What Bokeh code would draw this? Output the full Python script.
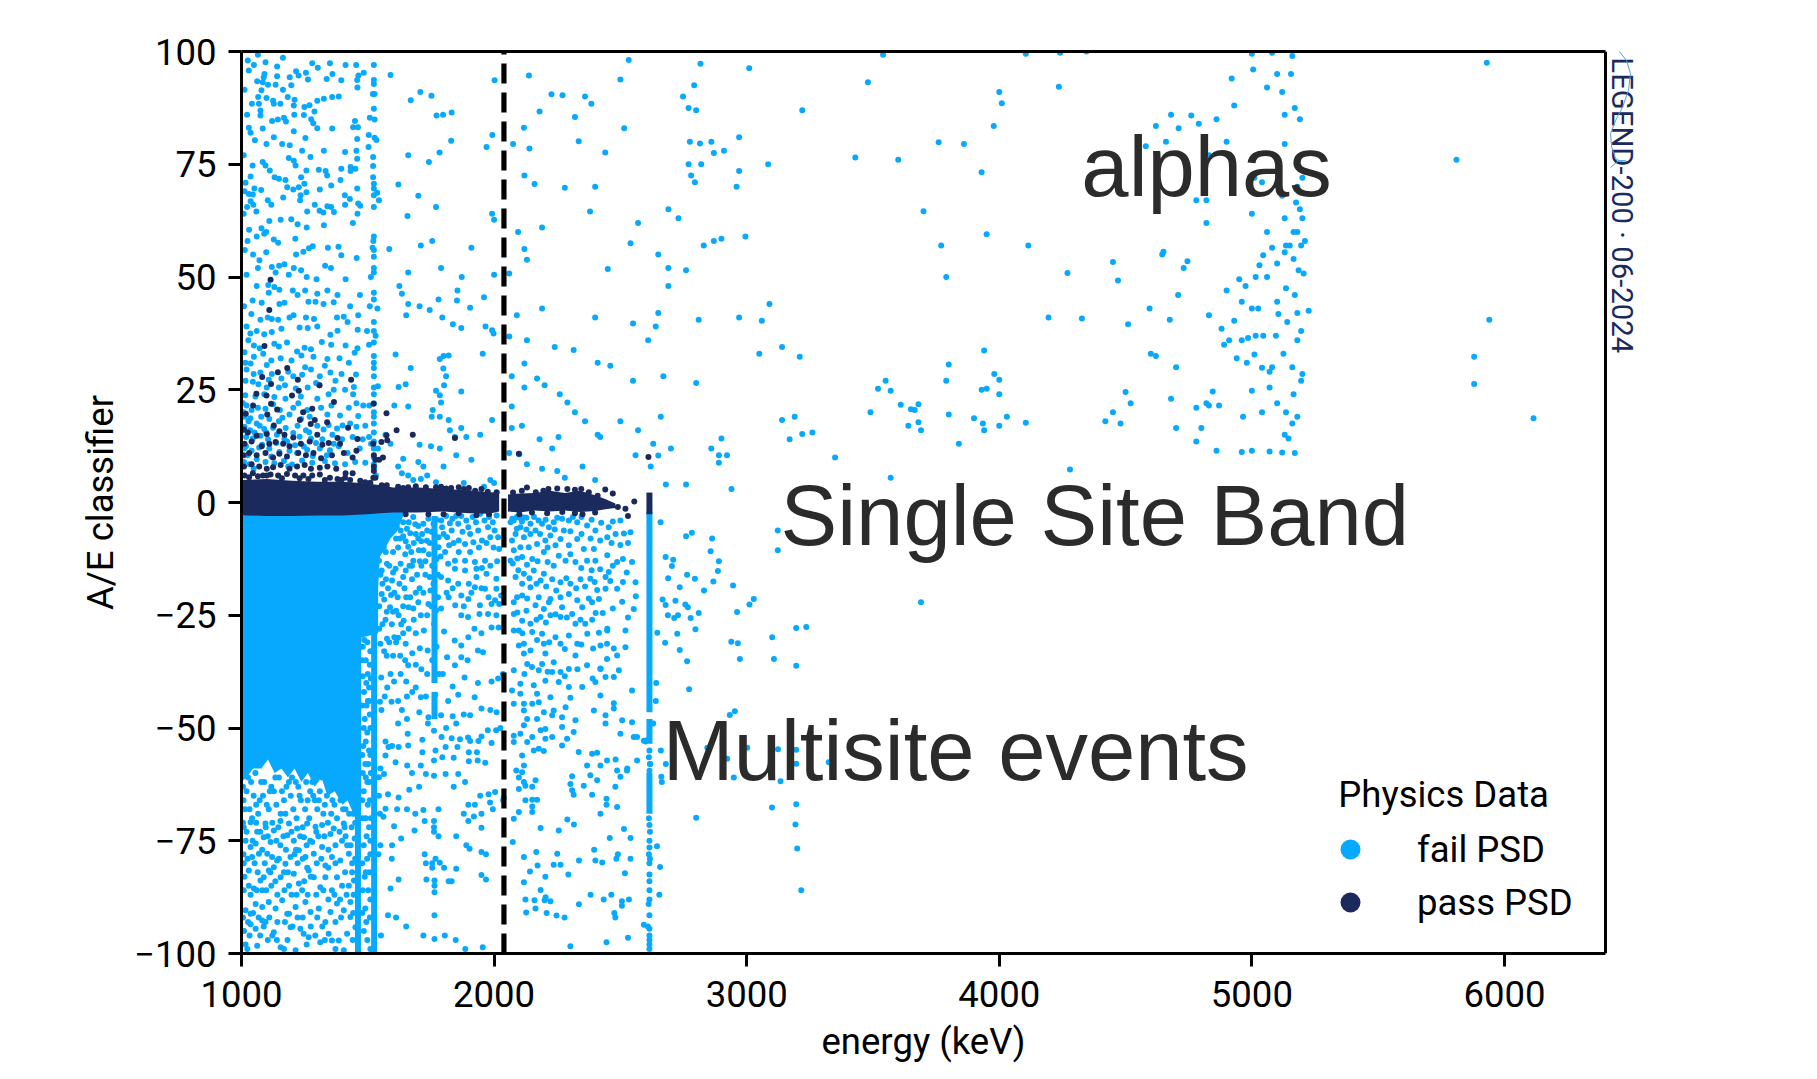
import math
from bokeh.plotting import figure
from bokeh.models import ColumnDataSource, FixedTicker, Label, Legend, LegendItem, LinearAxis, Title
from bokeh.embed import file_html
from bokeh.resources import INLINE

BLUE = "#07a9ff"
NAVY = "#1a2a5c"
X_TICKS = [1000, 2000, 3000, 4000, 5000, 6000]
Y_TICKS = [-100, -75, -50, -25, 0, 25, 50, 75, 100]
QBB = 2039

# --- densely filled areas, read as envelopes
band1_e = [1000, 1100, 1200, 1300, 1400, 1500, 1550, 1600, 1700, 1800, 1900, 1980, 2020]
band1_up = [5.0, 5.2, 4.8, 4.6, 4.6, 4.2, 3.8, 3.3, 3.3, 3.0, 2.7, 2.3, 2.2]
band1_lo = [-2.8, -3.0, -3.0, -2.9, -2.9, -2.6, -2.4, -2.2, -2.2, -2.0, -2.4, -2.5, -2.0]
band2_e = [2055, 2100, 2160, 2220, 2280, 2340, 2400, 2440, 2480]
band2_up = [1.8, 2.0, 2.1, 2.6, 2.1, 2.6, 1.6, 0.8, -0.2]
band2_lo = [-2.0, -2.2, -1.8, -2.0, -1.8, -2.1, -1.9, -1.5, -1.2]
solid_e = [1000, 1640, 1640, 1615, 1590, 1570, 1548, 1541, 1541, 1474, 1474, 1451, 1420, 1400, 1369, 1340, 1317, 1290, 1263, 1237, 1210, 1184, 1158, 1131, 1105, 1078, 1046, 1020, 1000]
solid_y = [-1.5, -1.5, -3, -6.5, -8, -10, -12, -19, -29, -30, -68, -70, -66, -67, -64, -65, -61, -63, -60, -62, -59, -61, -59, -60, -57, -59, -59, -61, -62]
heavy_e = [1461, 1525, 2615, 2615, 2615, 1764, 1764]
heavy_top = [-25, -25, -2, -48, -60, -3, -42]
heavy_bottom = [-100, -100, -46.5, -53.5, -69, -40, -48]
pass_line_e = [2615]
pass_line_top = [2.2]
pass_line_bottom = [-2.6]

# --- individual events: (energy, A/E)
fail_upper_left = [(1025,98),(1065,99.3),(1164,98.6),(1049,97),(1095,97.6),(1141,96.7),(1280,97.4),(1350,97.4),(1302,96.4),(1412,97),(1454,97),(1029,95.8),(1091,95),(1088,94.3),(1141,94.5),(1191,94.3),(1216,95.6),(1226,94.7),(1255,95.3),(1263,93.8),(1360,95),(1337,93.9),(1395,93.6),(1484,95.3),(1463,94.7),(1458,93.7),(1459,92),(1012,91.5),(1062,93.4),(1084,93.2),(1105,92.6),(1135,92.6),(1197,92.5),(1164,91.5),(1079,91.4),(1066,89.9),(1099,89.7),(1125,89.1),(1183,89.9),(1210,89.3),(1300,89.1),(1326,89.5),(1359,89.9),(1385,90),(1041,88.4),(1069,88.4),(1128,88.4),(1154,88.4),(1207,88),(1269,88.1),(1249,87.7),(1022,86),(1075,86.9),(1075,85.8),(1209,86),(1247,85.9),(1289,86.7),(1276,85),(1121,84.6),(1144,84.9),(1168,85.3),(1176,84.5),(1449,84.6),(1442,83.2),(1461,83.2),(1284,84.1),(1300,83),(1359,82.9),(1029,83.1),(1084,82.9),(1207,82.3),(1036,82),(1053,80.3),(1099,79.5),(1128,81),(1161,79.5),(1191,79.2),(1253,80.8),(1458,80.6),(1009,77),(1240,78),(1326,78),(1410,77.7),(1455,78),(1273,76.6),(1458,76.2),(1187,76.4),(1084,75.5),(1044,74.7),(1095,74.7),(1207,75.8),(1214,74.7),(1112,73.6),(1306,73.8),(1395,74),(1432,74.4),(1451,74),(1257,73.6),(1333,73.5),(1339,72.5),(1036,72.3),(1131,72.1),(1148,71.8),(1174,71.5),(1236,72.1),(1392,71.5),(1432,73.5),(1016,70.9),(1249,70.7),(1355,70.3),(1051,69.6),(1078,69.3),(1181,69.9),(1205,69.4),(1227,69.9),(1310,69.4),(1458,69.6),(1257,68.8),(1012,69),(1029,68.4),(1045,68.3),(1234,68.1),(1409,68.1),(1165,67.6),(1429,67.3),(1104,67),(1036,66.8),(1047,66),(1118,66),(1232,67),(1022,65.5),(1290,66),(1340,65.7),(1355,65.5),(1410,66),(1462,66.3),(1470,65.8),(1059,64.5),(1009,64),(1260,64.5),(1309,64.7),(1324,64.3),(1366,64.4),(1459,64),(1110,62.4),(1155,62.7),(1197,62.8),(1222,61.7),(1258,61),(1326,61.5),(1441,62),(1030,60.5),(1079,60.8),(1098,60),(1090,59.6),(1060,59),(1024,58),(1128,58.3),(1145,57.6),(1213,58.5),(1267,56.4),(1282,56.8),(1342,56.5),(1384,56.7),(1013,56),(1046,55),(1098,55.5),(1216,55),(1245,55.6),(1395,54.8),(1456,54.2),(1071,53.7),(1065,52),(1120,52.2),(1149,52.5),(1170,52.8),(1207,52),(1236,51.5),(1331,52.5),(1354,52),(1020,50.5),(1135,51),(1187,50.5),(1258,50),(1297,49.5),(1412,49.5),(1060,48),(1106,48.2),(1108,46.5),(1130,47.8),(1150,47.2),(1203,47),(1222,46),(1252,47),(1300,46.3),(1340,47),(1380,46),(1469,46),(1044,44.8),(1080,44.3),(1150,44),(1170,44.3),(1265,44.5),(1293,44.5),(1325,44),(1365,44.4),(1430,43.5),(1010,43.5),(1039,41.8),(1075,40.5),(1104,41),(1120,40.7),(1145,40.5),(1190,41),(1206,41.5),(1255,41),(1287,40.7),(1378,41),(1405,41.2),(1420,40),(1462,41.5),(1020,39),(1035,37.5),(1060,38),(1090,37.3),(1120,37.8),(1158,38.5),(1230,38.8),(1262,38.7),(1300,39),(1352,37.2),(1380,38.1),(1460,38.3),(1497,38),(1027,36),(1049,34.8),(1072,34.2),(1130,35.2),(1148,34.6),(1180,35.5),(1220,33.5),(1250,34.3),(1275,34),(1318,35.6),(1355,35),(1412,34.8),(1459,34.2),(1012,33.3),(1049,32.3),(1100,30.5),(1118,31.5),(1155,32),(1198,31.5),(1237,32.6),(1285,32.3),(1340,31.8),(1388,32),(1448,33.2),(1020,29.5),(1048,28.5),(1075,28.8),(1120,28.5),(1158,27.5),(1185,29),(1240,28.3),(1275,29.5),(1310,28),(1352,28.8),(1396,28.5),(1453,28.4),(1016,27),(1045,26.8),(1067,26.2),(1100,25.5),(1148,25.5),(1215,25.3),(1262,25.5),(1308,26),(1365,25),(1410,25),(1445,25.6),(1015,23.8),(1055,23.5),(1090,24),(1130,23.4),(1174,23),(1235,23.5),(1300,23),(1345,24),(1442,24),(1020,21.5),(1040,20.5),(1065,21),(1095,20.8),(1125,21.8),(1152,20.5),(1205,21),(1225,22),(1260,20.5),(1315,21),(1356,21.5),(1425,21),(1455,22),(1482,21.5),(1012,19),(1035,18.7),(1078,19),(1110,18.5),(1162,18.8),(1190,19.5),(1236,18.5),(1270,19),(1340,19.5),(1390,19.3),(1462,19.2),(1012,16.8),(1034,16),(1060,17.5),(1090,16.3),(1125,16.6),(1175,16.5),(1222,17),(1255,16),(1300,17),(1345,17.2),(1400,17.1),(1455,16.8),(1490,17),(1018,14.5),(1045,14.2),(1075,14.8),(1105,14),(1140,15),(1180,13.5),(1230,14.6),(1275,14.2),(1320,14),(1360,15),(1440,14.5),(1505,14.5),(1010,12),(1040,11.5),(1070,12.2),(1110,12),(1150,11.2),(1190,11.5),(1220,11),(1260,11.7),(1310,12),(1350,11.6),(1385,12.5),(1420,11),(1010,9),(1032,8.5),(1060,9.6),(1095,9),(1130,8.7),(1168,9.2),(1200,8.4),(1240,9.3),(1280,8.8),(1330,9.2),(1370,8.7),(1410,8.5),(1450,9),(1490,8.8),(1006,22),(1008,20),(1028,18),(1052,15.5),(1018,12.5),(1006,16),(1024,10.5),(1048,7.5),(1072,17),(1082,12.8),(1098,15.5),(1118,10.2),(1138,13.2),(1148,18),(1170,14),(1185,8),(1205,15.4),(1212,12.7),(1247,12.4),(1268,15.6),(1282,10.3),(1295,13.2),(1325,16.2),(1338,10.5),(1365,13),(1378,16.4),(1398,14),(1430,17.5),(1468,12),(1480,14),(1015,31),(1036,30.8),(1086,33),(1108,27.2),(1172,26),(1205,28),(1252,30),(1295,26.5),(1330,30.3),(1372,27),(1425,31)]
fail_1525_column = [(1524,97),(1524,93.7),(1524,92.8),(1520,90.6),(1527,90.6),(1524,87.3),(1508,85.3),(1527,84.9),(1504,81.5),(1527,80.9),(1534,80.4),(1503,78.8),(1521,76.6),(1521,74.6),(1521,72.1),(1524,70.7),(1524,69.6),(1537,68.7),(1524,68.1),(1544,67),(1524,65.5),(1524,59),(1522,58),(1519,56.5),(1524,56),(1524,54.5),(1524,52),(1524,51),(1512,50),(1524,46.5),(1524,45),(1508,43.5),(1538,43),(1524,40),(1524,38),(1531,37),(1524,35.5),(1505,35),(1524,32.5),(1524,31),(1524,29.8),(1524,28),(1524,25.5),(1524,24),(1524,22),(1506,21.5),(1524,20),(1524,19),(1524,17.5),(1524,15.5),(1524,13.5),(1524,12),(1513,13),(1540,12),(1524,10),(1524,8.5),(1524,7.5),(1532,6)]
fail_upper_mid = [(1590,94.8),(1708,91),(1670,89.2),(1752,90.2),(1832,86.5),(1798,86),(1772,85.8),(2002,93.6),(1660,77),(1784,77.6),(1742,75.5),(1830,80.2),(1970,78.8),(1993,81.5),(1621,70.5),(1700,68),(1770,65.5),(1992,64),(2000,62.7),(1657,63.5),(1585,56.2),(1710,57),(1755,58),(1910,56.5),(1790,52),(1660,51),(1872,50),(2000,50.5),(1625,48),(1635,46.3),(1855,47),(1780,45),(1853,44.8),(1660,44),(1705,43.5),(1745,42.7),(1795,41),(1905,43.2),(1960,45.5),(1652,41.5),(1870,38.7),(1837,39.5),(1966,39),(1992,38.2),(1998,37.5),(1955,33),(1800,32.5),(1820,32.6),(1610,32.8),(1785,31.8),(1799,29.7),(1810,28),(1670,29.8),(1650,26.2),(1622,25.6),(1802,26),(1770,24.8),(1785,23.8),(1790,22.2),(1870,24.6),(1540,25.8),(1605,21.5),(1660,21.3),(1757,20.5),(1753,19),(1785,19),(1820,18.3),(1992,18.3),(1825,16),(1845,14.5),(1890,14.5),(1870,16.5),(1945,15),(1570,15),(1590,13),(1640,9.7),(1705,12.8),(1750,12.5),(1785,12),(1700,9),(1720,8),(1635,6.5),(1660,6),(1680,5),(1710,5.2),(1800,8),(1850,10.5),(1910,9.5),(1985,5),(2000,4.3),(1620,8),(1735,6),(1770,4.5),(1880,4.3),(1960,3.5)]
fail_upper_right = [(2227,90.5),(2271,90.3),(2360,90),(2385,88.4),(2138,94.7),(2533,98.1),(2817,97.3),(2500,93.8),(2792,92.5),(2748,90),(2180,86.7),(2320,85.5),(2118,83.1),(2515,83),(2770,87.5),(2800,87),(2075,79.5),(2140,78.5),(2335,80.1),(2440,77.6),(2775,80),(2815,79.6),(2770,75),(2820,75),(2780,72.5),(2870,77.5),(2120,72.5),(2160,70.6),(2280,69.8),(2400,70),(2690,65),(2730,63),(2795,71),(2380,64.5),(2570,62),(2095,60),(2190,61),(2120,56.2),(2130,53.8),(2540,57.5),(2650,55),(2830,57),(2870,58),(2060,50.8),(2450,51.8),(2690,52),(2760,51.5),(2690,48),(2090,41.5),(2190,43),(2400,41),(2550,39.7),(2640,39),(2650,42),(2810,40.5),(2060,36.8),(2130,36),(2240,34.5),(2315,33.8),(2410,31),(2460,30.3),(2610,36),(2550,27),(2670,28),(2800,26.5),(2070,28),(2120,30.8),(2170,27.5),(2200,26),(2070,21.3),(2120,25.5),(2260,24),(2290,22.2),(2320,20),(2360,18),(2410,15),(2420,14.5),(2500,18),(2570,16),(2630,13),(2660,19),(2700,12),(2110,17),(2180,14),(2230,12),(2255,14.5),(2070,16.5),(2100,10.7),(2130,8.5),(2060,11),(2190,7.5),(2250,7),(2280,5.5),(2350,8),(2400,5),(2560,10.5),(2620,8),(2650,10.4),(2680,4),(2890,8.8),(2890,10.5),(2760,4),(2940,3),(3010,96.3),(3085,75),(3220,87),(3430,76.5),(3480,93.2),(3210,32.3),(3060,40.3),(3050,33),(3140,34.5),(3140,18.3),(3190,19),(3220,15.2),(2970,41),(2860,12),(2900,14.2),(2922,10.5),(2900,58.5),(2995,59),(2860,80),(2910,78),(2970,81),(2960,70),(2970,73.5),(3090,44)]
fail_alpha = [(3540,99.3),(3760,79.9),(3860,79.5),(3930,73.2),(3600,76),(3950,59.5),(3770,57),(3700,64.6),(3790,50),(4105,99.5),(4241,99.7),(4345,100),(4236,92.2),(4000,91),(4010,88.5),(3978,83.5),(4115,57),(4270,50.9),(4450,53.3),(4470,49.2),(4195,41),(4327,40.8),(4510,39.5),(4600,33),(4620,32.5),(4650,55.6),(4645,55),(4730,52),(4708,46),(4830,41.5),(4745,53.5),(4595,43),(4675,40.5),(4900,47),(4950,49.5),(4960,44.5),(4975,48),(4930,40.3),(5000,43),(4985,36.5),(5015,37),(5045,37),(5025,43),(5060,50),(5100,44.5),(5135,47.5),(5170,46),(5185,51.5),(5205,50.8),(5135,57),(5180,60),(5190,65),(5175,66.5),(5200,63),(5180,70),(5200,72),(5040,71),(5010,72),(5130,79.5),(5130,86),(5060,92),(5120,91),(5190,85),(5170,87.5),(5100,95),(5155,95),(5005,96),(5160,99),(5080,99.7),(5000,99.5),(4920,94),(4930,88),(4860,85),(4900,80),(4830,77),(4790,84),(4760,85.8),(4710,83),(4680,86),(4660,80),(4620,83.5),(4580,79),(4820,67),(5000,64),(5120,68),(4780,67),(4820,62),(5060,60),(5130,63),(5150,57),(5165,60),(5165,54),(5195,57),(5210,58),(5130,55.5),(5100,53),(5080,56.5),(5045,54.8),(5030,52.6),(5015,50),(4910,36),(4960,36),(5010,32.8),(5040,29.9),(5080,30),(5125,33),(5180,36),(5195,38),(5180,42),(5225,42.5),(5140,40),(5105,41.8),(5095,37),(5160,30),(5200,28.5),(4880,38.5),(4890,35),(4940,32),(4980,31),(5070,29),(5070,25.5),(5000,24.8),(4845,24.6),(4820,22),(4830,21.5),(4870,21.5),(4965,19),(5040,20),(5100,22),(5135,20),(5165,24),(5180,19),(5195,27),(5160,17.5),(5130,15),(5145,14.2),(4800,16.5),(4780,21),(4780,13.5),(4700,16.5),(4860,11.5),(4960,11.2),(5000,11.5),(5070,11.3),(5120,11.1),(5170,11),(3520,25.2),(3550,27),(3570,24.8),(3490,20),(3610,21.7),(3650,20.7),(3680,21.8),(3665,20.5),(3640,17),(3680,17.8),(3690,16),(3790,27),(3800,30.6),(3800,19.5),(3940,33.7),(3980,28.5),(4000,27.2),(3930,25),(3950,25.2),(4000,24),(3900,18.7),(3935,17.5),(3940,16),(4000,17),(4030,19),(4105,17.7),(3840,13),(4280,7.3),(3570,5.5),(4450,20),(4420,18),(4500,24.5),(4520,22),(4480,17.5),(4700,30),(4680,23),(5880,32.3),(5880,26.3),(5940,40.5),(5810,76),(5930,97.5),(6115,18.7),(3260,15.5),(3170,14),(3350,10),(3690,-22.1)]
fail_low_left = [(1010,-95),(1016,-98),(1023,-99),(1036,-93.5),(1056,-94.5),(1062,-98.3),(1082,-92.7),(1095,-93),(1122,-96),(1128,-95.3),(1155,-98.6),(1168,-99),(1181,-91.2),(1194,-94.2),(1214,-99.3),(1233,-94.5),(1246,-95.6),(1266,-96.4),(1312,-97.5),(1345,-95.6),(1358,-97.1),(1385,-97.1),(1405,-99.3),(1418,-95.6),(1431,-91.9),(1451,-94.2),(1009,-86),(1029,-85),(1049,-85.6),(1075,-83.8),(1088,-83.1),(1108,-81.6),(1128,-80.9),(1155,-83.1),(1174,-80.1),(1188,-85),(1207,-82.3),(1227,-84.5),(1240,-86),(1266,-81.6),(1286,-83.1),(1312,-85.3),(1332,-83.1),(1358,-86),(1378,-83.1),(1398,-85),(1425,-85),(1445,-83.8),(1016,-90.4),(1036,-91.2),(1056,-89),(1082,-89.7),(1108,-88.6),(1135,-90),(1161,-88.2),(1188,-91.2),(1214,-89.7),(1253,-88.6),(1273,-90.8),(1306,-90),(1332,-93),(1352,-90.8),(1378,-88.9),(1405,-90.4),(1431,-88.6),(1009,-80),(1029,-81.6),(1042,-78.6),(1069,-77.9),(1102,-77.9),(1121,-78.6),(1141,-79.4),(1194,-78.6),(1227,-77.1),(1253,-78.6),(1286,-77.9),(1332,-80.5),(1358,-78.6),(1391,-79.4),(1425,-77.9),(1438,-80),(1016,-75),(1036,-76.4),(1056,-75.6),(1088,-74.2),(1115,-75.3),(1154,-76),(1181,-73.8),(1207,-75),(1247,-74.2),(1280,-75.3),(1319,-76.4),(1352,-73.5),(1398,-75),(1418,-76),(1448,-74.5),(1009,-72),(1036,-70.9),(1062,-73),(1095,-71.2),(1128,-72.7),(1154,-70.6),(1188,-71.2),(1220,-72.3),(1260,-71.2),(1293,-71.9),(1319,-71.5),(1365,-72.3),(1405,-71.2),(1020,-64),(1038,-62),(1055,-60),(1072,-66),(1090,-62),(1108,-68),(1128,-64),(1148,-61),(1168,-66),(1188,-62),(1205,-68),(1225,-63),(1245,-60),(1262,-66),(1280,-62),(1300,-68),(1320,-61),(1338,-65),(1355,-69),(1372,-62),(1392,-66),(1412,-68),(1430,-64),(1008,-66),(1032,-68),(1048,-65),(1066,-69),(1085,-65),(1100,-67),(1118,-63),(1138,-67),(1155,-69),(1178,-63),(1195,-65),(1215,-62),(1235,-66),(1252,-68),(1272,-64),(1290,-66),(1310,-64),(1330,-67),(1348,-62),(1368,-67),(1385,-63),(1402,-68),(1420,-65),(1442,-69),(1480,-32),(1492,-35),(1510,-33),(1500,-38),(1485,-42),(1505,-41),(1495,-45),(1488,-48),(1508,-47),(1498,-51),(1482,-54),(1505,-55),(1490,-58),(1512,-60),(1498,-62),(1484,-64),(1508,-66),(1492,-70),(1505,-72),(1484,-76),(1497,-79),(1510,-78),(1488,-83),(1502,-86),(1490,-90),(1508,-92),(1484,-95),(1498,-97),(1510,-99)]
fail_low_dense = [(1006,-63),(1014,-68),(1026,-61),(1042,-70),(1058,-67),(1078,-62),(1096,-72),(1112,-64),(1134,-61),(1146,-72),(1160,-64),(1174,-69),(1200,-61),(1218,-70),(1230,-65),(1242,-72),(1256,-62),(1268,-70),(1284,-65),(1296,-73),(1306,-66),(1324,-69),(1342,-71),(1360,-66),(1378,-70),(1396,-64),(1408,-72),(1426,-69),(1436,-72),(1450,-71),(1006,-71),(1020,-73),(1044,-75),(1058,-71),(1074,-73),(1082,-77),(1104,-74),(1122,-71),(1138,-75),(1166,-74),(1176,-77),(1198,-73),(1216,-77),(1232,-74),(1258,-76),(1272,-75),(1304,-74),(1328,-74),(1344,-77),(1372,-76),(1388,-73),(1412,-74),(1432,-76),(1008,-78),(1024,-79),(1052,-80),(1064,-82),(1092,-80),(1114,-82),(1134,-84),(1148,-79),(1168,-82),(1184,-82),(1210,-78),(1222,-80),(1242,-79),(1260,-81),(1274,-83),(1298,-80),(1316,-79),(1344,-81),(1372,-80),(1410,-82),(1438,-82),(1450,-79),(1012,-83),(1036,-87),(1060,-86),(1082,-86),(1098,-86),(1118,-85),(1142,-87),(1170,-86),(1198,-87),(1218,-87),(1248,-84),(1262,-87),(1296,-87),(1324,-86),(1344,-88),(1368,-87),(1390,-88),(1416,-87),(1444,-87),(1006,-92),(1026,-93),(1046,-91),(1068,-92),(1088,-94),(1110,-92),(1142,-93),(1172,-93),(1202,-94),(1222,-92),(1242,-92),(1274,-94),(1300,-92),(1320,-94),(1372,-93),(1394,-92),(1442,-91),(1032,-96),(1074,-96),(1104,-97),(1140,-97),(1182,-97),(1258,-98),(1292,-96),(1330,-97),(1372,-99),(1440,-97)]
fail_gap = [(1478,-35),(1486,-30.5),(1498,-31),(1508,-36),(1480,-38.5),(1494,-40),(1506,-44),(1512,-39),(1478,-45),(1500,-44),(1484,-50),(1510,-50),(1478,-56),(1492,-53),(1510,-56),(1480,-60),(1502,-58),(1506,-62),(1478,-66),(1492,-61),(1500,-67),(1512,-70),(1480,-70),(1495,-74),(1510,-75),(1478,-80),(1492,-82),(1508,-82),(1480,-86),(1510,-88),(1494,-93),(1478,-91)]
fail_mid = [(1550,-10.6),(1563,-9.9),(1544,-12.9),(1571,-11),(1550,-16),(1576,-13.6),(1555,-15.1),(1596,-17.3),(1610,-14.7),(1630,-13.6),(1650,-15.1),(1680,-12.9),(1702,-10.6),(1682,-9),(1650,-8.6),(1630,-6.2),(1610,-4.7),(1640,-4.4),(1680,-3.2),(1720,-4.7),(1735,-6.2),(1715,-7),(1760,-4.7),(1790,-4),(1810,-3),(1835,-3.6),(1870,-3),(1915,-3.2),(1945,-2.5),(1980,-3.2),(2010,-2.9),(1794,-5.5),(1832,-6.2),(1858,-4.7),(1898,-5.5),(1937,-6.2),(1976,-5.5),(2002,-6.2),(1780,-7.7),(1814,-7.7),(1860,-8.4),(1885,-9.2),(1918,-8.8),(1952,-8.4),(1985,-7.7),(2016,-7.7),(1780,-9.9),(1806,-11),(1845,-12.9),(1885,-12.9),(1924,-13.2),(1964,-12.9),(2020,-10.3),(1818,-13.6),(1845,-14.7),(1885,-15.1),(1930,-14.7),(1970,-15.8),(2009,-16.9),(1930,-16.5),(1790,-16.5),(1818,-17.3),(1858,-18),(1924,-18.8),(1964,-19.1),(2009,-19.1),(1870,-20.6),(1898,-21.4),(1978,-21),(2004,-21.7),(2028,-20.6),(1820,-21),(1846,-22.8),(1944,-22.8),(1870,-25),(1897,-25.4),(1942,-24.7),(1976,-24.7),(2009,-25),(1790,-23.5),(1740,-22.5),(1700,-22.1),(1662,-23.2),(1622,-25),(1588,-23.2),(1555,-20.3),(1575,-24.2),(1600,-24.2),(1642,-26.2),(1682,-26),(1722,-28.4),(1762,-26.9),(1802,-28.6),(1844,-30.6),(1870,-31.7),(1898,-29.9),(1922,-28),(1950,-29),(1990,-27.7),(2018,-27.7),(1936,-32.8),(1956,-33.2),(1870,-34.3),(1895,-35),(1814,-34.3),(1845,-36.1),(1797,-38),(1836,-40.8),(1883,-38.8),(1936,-40),(1990,-39.7),(2016,-39),(2035,-38),(1550,-31.3),(1576,-30.2),(1605,-29.9),(1650,-31.3),(1676,-33.4),(1706,-32.3),(1737,-32.8),(1660,-36.1),(1630,-38),(1590,-38),(1553,-38.8),(1577,-41),(1604,-39.7),(1652,-39.7),(1676,-42),(1710,-43.2),(1767,-42.6),(1818,-44),(1858,-42.6),(1923,-43.2),(1950,-45.7),(1985,-46),(2010,-46.5),(1567,-43),(1548,-44.2),(1594,-44.2),(1620,-44),(1740,-47.6),(1790,-47.2),(1836,-47.4),(1880,-47),(1905,-47.2),(1554,-46),(1620,-49),(1655,-48),(1704,-46.5),(1738,-49),(1810,-50),(1850,-49),(1897,-52.1),(1950,-51.9),(1975,-50.5),(2008,-50.5),(2025,-50),(1570,-53),(1596,-54),(1658,-51.3),(1716,-52.6),(1762,-50.6),(1792,-52),(1832,-52.3),(1865,-52.5),(1905,-52.9),(1938,-52.9),(1990,-53.3),(1570,-56.1),(1582,-54.2),(1622,-54.2),(1660,-53.9),(1716,-55.4),(1768,-55),(1808,-54.2),(1855,-54.2),(1900,-55.4),(1932,-55.4),(1610,-57.6),(1656,-58.3),(1710,-58.3),(1762,-57.2),(1795,-56.5),(1840,-56.6),(1900,-57.4),(1935,-57.2),(1965,-57.7),(1550,-59),(1564,-60.2),(1544,-60.9),(1675,-60),(1730,-60.2),(1762,-60.6),(1808,-60.2),(1858,-60.2),(1885,-62),(1664,-63.7),(1580,-64.7),(1622,-65.4),(1703,-63),(1840,-63),(1945,-65),(1978,-64.7),(2004,-64.2),(2038,-65.5),(1544,-65),(1570,-67.9),(1616,-68),(1655,-68),(1720,-68.2),(1780,-68),(1898,-67),(1924,-67),(1984,-66.5),(1995,-68),(2036,-66),(1548,-69),(1562,-69.7),(1688,-69),(1725,-70.6),(1762,-70.6),(1898,-70.6),(1920,-69.6),(1950,-69),(1880,-69),(1604,-71.8),(1762,-72),(1685,-72.7),(1950,-72.1),(1762,-73),(1780,-74),(1850,-74),(1632,-74.5),(1596,-76),(1550,-76),(1890,-76),(1903,-76.8),(1768,-79),(1725,-78),(1950,-77.5),(1542,-78),(1595,-79),(1968,-78),(1755,-80),(1730,-80),(1785,-79.9),(1802,-81),(1850,-81.2),(1755,-81),(1732,-83.6),(1950,-82.6),(1968,-83.6),(1764,-83.8),(1832,-84),(1622,-83.6),(1590,-85.6),(1764,-85),(1764,-86.4),(1820,-84),(1580,-91.5),(1612,-92),(1652,-94),(1764,-91.5),(1720,-96),(1764,-96.8),(1805,-96),(1848,-97),(1552,-96),(1886,-99),(1955,-98.6)]
fail_mid_top = [(1615,-5.5),(1628,-8),(1620,-10),(1640,-7.5),(1655,-5.8),(1668,-6.8),(1660,-9.8),(1672,-11),(1690,-7),(1700,-5.2),(1712,-8.6),(1720,-10.6),(1728,-13),(1745,-9),(1752,-6.5),(1742,-11.5),(1755,-14),(1772,-12.5),(1778,-16),(1760,-18),(1745,-16.5),(1728,-16),(1712,-14),(1695,-16),(1675,-17),(1665,-14),(1645,-19),(1625,-18),(1605,-20),(1580,-19),(1570,-26),(1558,-27),(1595,-27),(1620,-30),(1640,-29),(1662,-28),(1690,-29),(1710,-25),(1735,-25),(1752,-23),(1778,-21),(1690,-20),(1705,-19),(1668,-21),(1640,-23),(1612,-24),(1575,-34),(1600,-34),(1628,-34),(1648,-35),(1690,-36),(1712,-37),(1735,-38),(1755,-35),(1772,-32),(1782,-38),(1730,-43),(1690,-41),(1655,-43),(1635,-46),(1558,-18),(1572,-17),(1585,-14),(1600,-11),(1612,-8),(1648,-11.5),(1662,-4.4),(1688,-4.8),(1706,-13),(1734,-8.5),(1766,-7.5),(1772,-3.8),(1740,-3.6),(1700,-8),(1675,-14),(1640,-16.5),(1618,-21),(1600,-15.5),(1592,-20.5),(1565,-21.5),(1545,-23),(1545,-28),(1565,-33),(1585,-31),(1612,-31),(1632,-27),(1652,-21),(1680,-23.5),(1720,-20),(1748,-19.5),(1770,-24),(1788,-12),(1800,-7),(1822,-9.5),(1840,-9),(1875,-6.5),(1905,-7),(1940,-10),(1970,-9),(1998,-10),(1825,-4.6),(1850,-3),(1890,-4),(1928,-4.4),(1962,-4),(1995,-4.4),(1812,-20),(1836,-19),(1880,-23),(1910,-20),(1990,-22.5),(2020,-22.5),(1950,-19),(1900,-18),(1860,-11),(1905,-11),(1952,-14.5),(1985,-14),(2012,-13)]
fail_right = [(2065,-4.4),(2078,-4),(2098,-3.3),(2118,-3.3),(2144,-4.7),(2104,-5.5),(2085,-7),(2071,-8.4),(2118,-7.7),(2144,-7),(2164,-6.2),(2190,-4.7),(2217,-5.5),(2223,-7.3),(2203,-8.4),(2170,-9.2),(2137,-9.9),(2104,-9.9),(2078,-10.6),(2065,-12.9),(2111,-12.1),(2151,-12.5),(2197,-11),(2243,-9.5),(2263,-8.1),(2276,-6.2),(2269,-3.6),(2329,-4.4),(2368,-5.1),(2401,-6.2),(2329,-8.1),(2296,-9.5),(2355,-10.3),(2395,-10.3),(2448,-7.7),(2481,-7),(2514,-6.9),(2540,-6.6),(2454,-5.5),(2500,-4),(2448,-11.7),(2401,-12.9),(2368,-12.9),(2322,-13.2),(2283,-12.9),(2236,-14),(2197,-15.8),(2157,-15.1),(2118,-15.8),(2085,-16.5),(2111,-18),(2144,-18.8),(2184,-17.3),(2230,-17),(2263,-17.7),(2302,-18),(2342,-17),(2381,-16.9),(2454,-15.4),(2487,-13.2),(2510,-12.5),(2546,-13.2),(2560,-17.7),(2487,-19.1),(2441,-19.1),(2441,-16.5),(2408,-19.4),(2375,-21.3),(2329,-21.7),(2296,-20.3),(2263,-21),(2223,-21.4),(2177,-21),(2131,-21.3),(2091,-21),(2111,-20.6),(2078,-22.1),(2164,-22.8),(2197,-23.6),(2217,-22.1),(2269,-23.2),(2309,-24.7),(2349,-23.2),(2388,-22.1),(2415,-21.4),(2507,-22),(2553,-23.6),(2561,-20.8),(2078,-24.7),(2111,-26.2),(2144,-26.9),(2184,-25.4),(2223,-25),(2263,-25.4),(2322,-26.9),(2361,-26.9),(2388,-26),(2448,-28),(2078,-28.4),(2098,-28.4),(2151,-28.7),(2190,-29.1),(2243,-29.9),(2296,-29.5),(2329,-31.3),(2369,-29.1),(2415,-28.9),(2448,-28.4),(2520,-28.4),(2098,-31.7),(2118,-31.3),(2118,-33.5),(2144,-32.8),(2197,-31.3),(2203,-33.5),(2263,-31.3),(2322,-33.9),(2421,-31.7),(2447,-31.3),(2474,-32.4),(2520,-32.1),(2487,-33.9),(2447,-34.7),(2421,-36.8),(2236,-35.4),(2190,-35.8),(2131,-35.8),(2078,-37.2),(2177,-37.2),(2230,-37.6),(2263,-37.6),(2296,-36.9),(2368,-36.1),(2421,-36.9),(2494,-37.2),(2474,-38.7),(2441,-38.7),(2401,-39.8),(2349,-40.9),(2296,-40.9),(2256,-39.8),(2203,-39.5),(2157,-40.5),(2104,-40.2),(2071,-41.7),(2104,-42.4),(2170,-42.4),(2223,-43.2),(2302,-43.3),(2421,-42.8),(2546,-41.7),(2474,-44.5),(2078,-44.6),(2118,-44.6),(2151,-44.6),(2177,-44.3),(2118,-46.1),(2197,-46.5),(2236,-46.1),(2283,-45.4),(2395,-46.1),(2474,-45.7),(2131,-48),(2170,-48),(2230,-47.2),(2269,-47.6),(2322,-48.3),(2441,-47.2),(2441,-49),(2507,-48.3),(2546,-48.7),(2118,-49.4),(2269,-49.8),(2184,-50.5),(2203,-50.2),(2078,-51.7),(2104,-51.3),(2151,-52),(2203,-52.4),(2230,-52),(2315,-50.9),(2289,-52.4),(2500,-51.3),(2553,-52),(2566,-52),(2593,-52.8),(2078,-53.1),(2131,-53.1),(2269,-53.9),(2157,-55),(2177,-54.6),(2197,-55.1),(2335,-55.3),(2388,-55.7),(2408,-55.5),(2447,-57.2),(2111,-56.1),(2481,-57),(2566,-57.2),(2618,-58),(2118,-58.3),(2368,-58.3),(2421,-58.3),(2487,-59.4),(2526,-59.4),(2088,-59.4),(2111,-59.8),(2309,-60.7),(2408,-61.6),(2527,-59),(2381,-60.5),(2098,-61),(2164,-61.6),(2118,-62),(2302,-62.4),(2500,-60.8),(2355,-62.8),(2480,-63),(2098,-63.5),(2151,-63),(2309,-63.8),(2124,-62.8),(2388,-64.8),(2315,-64.8),(2124,-66),(2151,-65.9),(2170,-65.9),(2445,-65.7),(2445,-67),(2151,-67.4),(2151,-68.6),(2098,-68.6),(2487,-67.5),(2421,-69),(2078,-70.1),(2290,-70.3),(2316,-71.4),(2184,-72.2),(2256,-72.7),(2514,-72.4),(2458,-74.4),(2540,-74.4),(2074,-75.3),(2396,-77),(2167,-77.5),(2250,-77.9),(2118,-78.6),(2490,-78),(2401,-79.4),(2336,-79.4),(2236,-80.3),(2263,-80.3),(2172,-80.5),(2428,-79.8),(2484,-79),(2540,-79),(2142,-81.8),(2294,-82.5),(2203,-83),(2518,-82.2),(2118,-84.2),(2184,-85.9),(2464,-87),(2382,-87),(2204,-87.5),(2124,-88),(2654,-87),(2223,-88.4),(2160,-88.2),(2200,-88.2),(2434,-88),(2534,-88),(2506,-88.4),(2336,-89.1),(2127,-90.9),(2164,-90),(2208,-91),(2247,-91.6),(2279,-92),(2476,-91),(2480,-92),(2506,-89.4),(2593,-93.6),(2302,-98.4),(2445,-97.5),(2530,-96.5)]
fail_right_top = [(2072,-3.6),(2090,-3.2),(2110,-4.2),(2128,-3.4),(2158,-3.2),(2176,-4),(2204,-3.8),(2236,-4.4),(2250,-3.4),(2296,-4),(2312,-3.2),(2346,-3.2),(2386,-3.8),(2424,-4.5),(2470,-4.2),(2090,-5.8),(2128,-6),(2182,-7),(2212,-10),(2240,-6),(2302,-6.4),(2346,-7),(2382,-8),(2420,-8.4),(2465,-9),(2500,-9.4),(2530,-9),(2074,-13.5),(2092,-12.4),(2130,-13.8),(2172,-13),(2212,-13.2),(2256,-11.8),(2302,-11.5),(2345,-14.5),(2386,-15),(2420,-14.8),(2470,-14),(2525,-15.5),(2096,-15),(2140,-16.8),(2168,-18),(2206,-18.6),(2246,-19.5),(2286,-16.8),(2325,-19),(2360,-18.6),(2398,-17.6),(2460,-17.4),(2510,-17.6),(2092,-24.4),(2128,-24),(2168,-26),(2205,-26.6),(2243,-24.8),(2288,-25.5),(2342,-26),(2402,-24.5),(2430,-24.5),(2470,-23.5),(2530,-25.5),(2112,-29),(2170,-30.5),(2218,-31),(2280,-32.5),(2345,-31.5),(2392,-32.4),(2120,-38),(2150,-36.5),(2212,-37.5),(2280,-38.5),(2330,-37),(2390,-39)]
fail_2615_column = [(2615,-55),(2613,-56.5),(2617,-58),(2615,-59.5),(2613,-70),(2615,-71.5),(2617,-73),(2615,-75),(2615,-76.5),(2613,-78),(2617,-79),(2615,-80),(2615,-82.5),(2615,-84),(2615,-86),(2615,-88),(2612,-89),(2615,-91.5),(2609,-94),(2615,-94.5),(2615,-96),(2615,-97),(2615,-98),(2615,-99),(2605,-52.7),(2600,-53),(2630,-49),(2642,-40),(2640,-44)]
fail_tail = [(2659,-4.4),(2760,-7.5),(2783,-6.7),(2863,-8),(3123,-6.2),(3123,-10.6),(2857,-10.8),(2890,-13),(2886,-15.2),(2868,-17.5),(2831,-19.5),(2946,-18.4),(3028,-21.4),(3011,-22.6),(2962,-24.3),(2679,-12.1),(2709,-12.7),(2704,-14.1),(2689,-16.8),(2764,-16),(2795,-16.9),(2735,-18.8),(2667,-21.5),(2679,-22.7),(2718,-21.8),(2757,-22.6),(2767,-23.2),(2810,-24.5),(2778,-25.6),(2728,-25),(2713,-25.6),(2688,-25),(2797,-28.1),(3196,-27.8),(3236,-27.6),(3101,-29.9),(2939,-30.9),(2965,-31.2),(2646,-28.9),(2677,-31.1),(2725,-29.1),(2735,-32.7),(2764,-35.2),(2973,-34.7),(3108,-34.7),(3196,-36.2),(2772,-41.4),(2933,-47.1),(2953,-46.3),(2660,-55),(2680,-58),(2662,-60.8),(2664,-62),(2844,-54.4),(2923,-56.8),(3002,-54.4),(3124,-54.7),(3196,-54.8),(3196,-57.9),(3325,-57.6),(2949,-61),(3134,-61.8),(3100,-67.6),(3196,-66.9),(3193,-71.4),(2800,-69.9),(3200,-76.7),(3216,-86),(2645,-76.2),(2657,-80.8)]

pass_fringe = [(1115,49.4),(1110,42.7),(1091,34.7),(1144,28.9),(1181,29.8),(1082,27.8),(1117,26.3),(1223,27.2),(1309,26),(1434,27.2),(1227,24.8),(1099,23.7),(1059,24.1),(1200,23.7),(1366,22.3),(1046,21.5),(1117,21.9),(1141,20.6),(1017,19.7),(1102,19.5),(1280,20.8),(1244,20),(1523,21.9),(1574,19.8),(1231,18.3),(1290,18.3),(1274,17.4),(1339,17.8),(1128,17.1),(1422,16.6),(1614,16),(1678,15),(1845,14.3),(1574,14.9),(1577,13.8),(1554,13.4),(1459,14.1),(2098,10.8),(2611,10.1),(1010,16.2),(1025,15.5),(1060,14.8),(1100,15.2),(1150,15.8),(1170,15),(1205,14.4),(1300,15),(1390,13),(1522,13),(1012,13),(1040,13.5),(1080,12.5),(1110,13),(1135,13.4),(1165,13),(1190,12.5),(1235,13),(1270,13.5),(1320,12.8),(1345,13.2),(1380,14.3),(1008,10.5),(1030,11),(1060,10.5),(1095,11),(1125,10),(1150,10.8),(1180,10.2),(1225,11),(1255,10.5),(1285,11),(1315,9.8),(1358,10.5),(1405,11),(1440,10),(1455,11.5),(1524,10.5),(1530,9.5),(1545,9.5),(1560,10),(1010,8),(1040,8.5),(1070,8),(1100,7.5),(1125,7.8),(1155,8.3),(1190,7.5),(1220,8),(1250,8.3),(1275,7.5),(1310,7.7),(1340,8),(1375,7.5),(1412,6.5),(1440,6.5),(1524,8),(1524,7),(1522,5.5),(1530,5.5),(1012,6),(1045,6.5),(1085,6),(1115,6.2),(1145,6),(1180,6.3),(1212,6),(1245,6),(1280,6),(1310,6.2),(1350,5.5),(1380,5.2),(1410,5.5),(1490,4.5),(1555,3.8),(1620,3.5),(1660,3.4),(1770,3.4),(1790,3.5),(1830,3.2),(1860,3.4),(1900,3.2),(1950,3),(2130,3.3),(2195,2.6),(2250,3.1),(2290,3),(2345,3),(2440,2.9),(2470,2),(2410,1.5),(2555,0.2),(2350,-2.6),(2400,-2.2),(2490,-1),(2520,-1.4),(2530,-3),(1980,-2.6),(2010,2.3),(1030,5.6),(1065,5.8),(1100,6),(1160,5.4),(1230,5.4),(1265,5.2),(1330,5),(1395,5),(1430,5),(1470,4.8),(1510,4.4),(1575,3.8),(1640,3.2),(1690,3.6),(1730,3.4),(1810,3.1),(1880,3),(1925,2.6),(1975,2.4),(1650,-2.6),(1740,-2.6),(1800,-2.6),(1860,-2.4),(1930,-2.8),(2075,2.2),(2110,2.6),(2165,2.3),(2215,3),(2320,2.8),(2375,2.3),(2100,-2.6),(2150,-2.2),(2210,-2.4),(2270,-2.1),(2320,-2.4)]

watermark = "LEGEND-200 \u00b7 06-2024"
X_MAX = 6400
wave_e = [6455, 6483, 6499, 6491, 6467, 6440, 6420, 6424, 6440, 6459, 6479, 6452, 6420]
wave_ae = [100, 98, 95.1, 91.4, 87.6, 84.7, 81.8, 78.9, 76.3, 75.6, 75.8, 75.8, 74.3]

fail_points = (fail_upper_left + fail_1525_column + fail_upper_mid + fail_upper_right + fail_alpha
               + fail_low_left + fail_low_dense + fail_gap + fail_mid + fail_mid_top + fail_right + fail_right_top
               + fail_2615_column + fail_tail)

# the frame runs on past the box so that the watermark at its right stays drawn
p = figure(width=1668, height=1070, frame_width=1427, frame_height=902,
           x_range=(1000, 6649.4), y_range=(-100, 100),
           output_backend="svg", toolbar_location=None,
           min_border_left=241, min_border_top=51, min_border_right=0, min_border_bottom=117,
           background_fill_color="white", border_fill_color="white")
p.grid.visible = False
p.outline_line_color = None

p.xaxis.ticker = FixedTicker(ticks=X_TICKS)
p.yaxis.ticker = FixedTicker(ticks=Y_TICKS)
p.yaxis.major_label_overrides = {t: str(t).replace("-", "\u2212") for t in Y_TICKS}
p.xaxis.major_label_overrides = {t: str(t) for t in X_TICKS}
p.xaxis.bounds = (1000, X_MAX)
for ax in (p.xaxis[0], p.yaxis[0]):
    ax.axis_line_width = 3
    ax.major_tick_line_width = 3
    ax.major_tick_in = 0
    ax.major_tick_out = 13
    ax.minor_tick_line_color = None
    ax.major_label_text_font = "Roboto"
    ax.major_label_text_font_size = "36.5px"
    ax.major_label_text_color = "black"
    ax.axis_label_text_font = "Roboto"
    ax.axis_label_text_font_size = "36.5px"
    ax.axis_label_text_font_style = "normal"
    ax.axis_label_text_color = "black"
p.xaxis.major_label_standoff = 14
p.yaxis.major_label_standoff = 12
p.yaxis.axis_label_standoff = 9
p.yaxis.axis_label = "A/E classifier"
p.add_layout(Title(text="energy (keV)", align="left", offset=580, standoff=16, text_font="Roboto",
                   text_font_size="36.5px", text_font_style="normal", text_color="black"), "below")
p.add_layout(LinearAxis(ticker=FixedTicker(ticks=[]), bounds=(1000, X_MAX), axis_line_width=3,
                        major_tick_line_color=None, minor_tick_line_color=None,
                        major_label_text_color=None, major_label_text_font_size="1px"), "above")

p.patch(solid_e, solid_y, color=BLUE, line_width=0)
p.segment(x0=heavy_e, y0=heavy_top, x1=heavy_e, y1=heavy_bottom, color=BLUE, line_width=6)
fail_src = ColumnDataSource(dict(e=[q[0] for q in fail_points], ae=[q[1] for q in fail_points]))
r_fail = p.scatter("e", "ae", source=fail_src, size=6, color=BLUE, line_width=0)
p.varea(x=band1_e, y1=band1_lo, y2=band1_up, color=NAVY)
p.varea(x=band2_e, y1=band2_lo, y2=band2_up, color=NAVY)
p.segment(x0=pass_line_e, y0=pass_line_top, x1=pass_line_e, y1=pass_line_bottom, color=NAVY, line_width=6)
pass_src = ColumnDataSource(dict(e=[q[0] for q in pass_fringe], ae=[q[1] for q in pass_fringe]))
r_pass = p.scatter("e", "ae", source=pass_src, size=6, color=NAVY, line_width=0)

p.line([QBB, QBB], [-100, 100], color="black", line_width=5.2, line_dash="20 9")
p.line([X_MAX, X_MAX], [-100, 100], color="black", line_width=3)

for txt, x, y in [("alphas", 4325, 74.4), ("Single Site Band", 3134, -2.8), ("Multisite events", 2668, -55)]:
    p.add_layout(Label(x=x, y=y, text=txt, text_font="Liberation Sans", text_font_size="85px",
                       text_color="#2b2b2b", text_baseline="alphabetic"))

p.add_layout(Label(x=5342, y=-64.8, text="Physics Data", text_font="Roboto", text_font_size="36.5px",
                   text_color="black", text_baseline="alphabetic"))
legend = Legend(items=[LegendItem(label="fail PSD", renderers=[r_fail]), LegendItem(label="pass PSD", renderers=[r_pass])],
                location=(1084, 26), orientation="vertical", padding=0, margin=0, spacing=3,
                glyph_width=50, glyph_height=50, label_standoff=42, label_height=50,
                label_text_font="Roboto", label_text_font_size="36.5px", label_text_color="black",
                background_fill_alpha=0, border_line_color=None)
p.add_layout(legend)

p.add_layout(Label(x=6464, y=98.7, text=watermark, angle=-math.pi / 2, text_font="Roboto", text_font_size="29.3px",
                   text_color=NAVY, text_baseline="alphabetic", text_align="left"))
p.line(wave_e, wave_ae, color="#4aa3d8", line_width=1, level="overlay")

open("out.html", "w").write(file_html(p, INLINE))
